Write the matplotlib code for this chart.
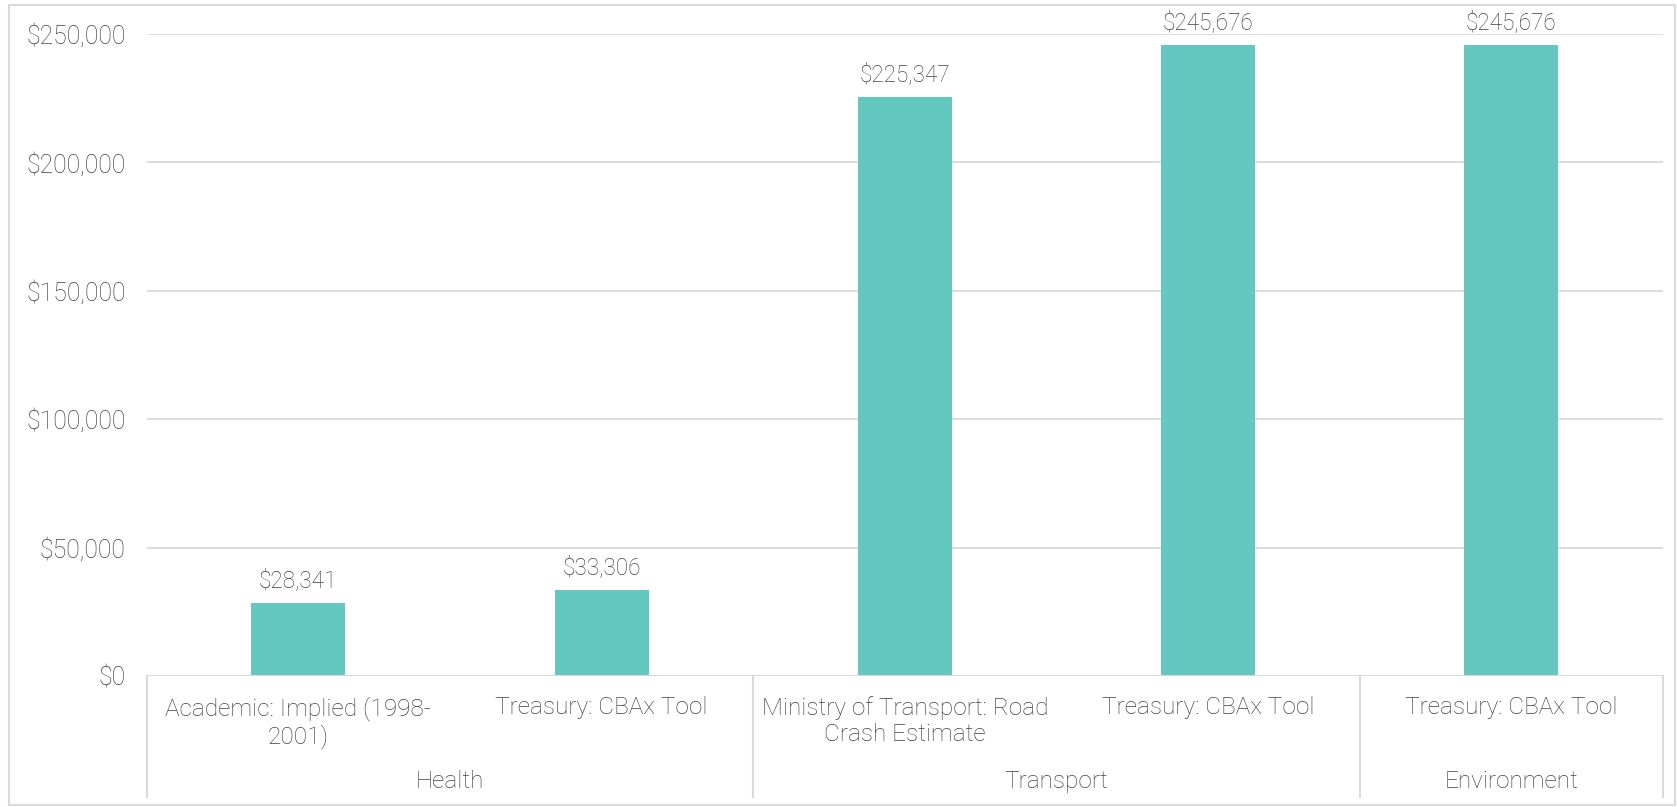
import matplotlib
matplotlib.use('Agg')
import matplotlib.pyplot as plt
from matplotlib.patches import Rectangle
from matplotlib.ticker import FuncFormatter

plt.rcParams['font.family'] = ['Roboto', 'DejaVu Sans']
plt.rcParams['font.weight'] = 'light'

# data
sources = ['Academic: Implied (1998-\n2001)', 'Treasury: CBAx Tool',
           'Ministry of Transport: Road\nCrash Estimate', 'Treasury: CBAx Tool',
           'Treasury: CBAx Tool']
values = [28341, 33306, 225347, 245676, 245676]
groups = ['Health', 'Transport', 'Environment']
group_sizes = [2, 2, 1]

bar_color = '#64C7C0'
text_color = '#424242'
line_color = '#D9D9D9'

fig = plt.figure(figsize=(16.77, 8.07), dpi=100)
ax = fig.add_axes([0.0874, 0.1623, 0.9043, 0.7956])

x = list(range(len(values)))
ax.bar(x, values, width=0.31, color=bar_color, zorder=2)
ax.set_xlim(-0.5, len(values) - 0.5)
ax.set_ylim(0, 250000)
ax.set_yticks(range(0, 250001, 50000))
ax.yaxis.set_major_formatter(FuncFormatter(lambda v, p: '${:,.0f}'.format(v)))
ax.tick_params(axis='y', length=0, pad=15, labelsize=17.8, labelcolor=text_color)
ax.set_xticks([])
ax.grid(axis='y', color=line_color, linewidth=1.3, zorder=0)
for s in ax.spines.values():
    s.set_visible(False)
ax.axhline(0, color=line_color, linewidth=1.5, zorder=3)

for xi, v in zip(x, values):
    ax.annotate('${:,.0f}'.format(v), (xi, v), xytext=(0, 8), textcoords='offset points',
                ha='center', va='bottom', fontsize=16.3, color=text_color, clip_on=False)

trans = ax.get_xaxis_transform()
for xi, lab in zip(x, sources):
    ax.text(xi, -0.031, lab, transform=trans, ha='center', va='top', fontsize=17.6,
            color=text_color, linespacing=1.17)

# group labels and separators
start = 0
bounds = [-0.5]
for g, n in zip(groups, group_sizes):
    mid = start + (n - 1) / 2
    ax.text(mid, -0.165, g, transform=trans, ha='center', va='center', fontsize=17.6,
            color=text_color)
    start += n
    bounds.append(start - 0.5)
for b in bounds:
    ax.plot([b, b], [0, -0.188], transform=trans, color=line_color, linewidth=1.5,
            clip_on=False)

# outer frame
fig.patches.append(Rectangle((9 / 1677, 2 / 807), 1 - 11 / 1677, 1 - 7 / 807,
                             transform=fig.transFigure, fill=False,
                             edgecolor=line_color, linewidth=1.5))

plt.savefig('out.png', dpi=100)
